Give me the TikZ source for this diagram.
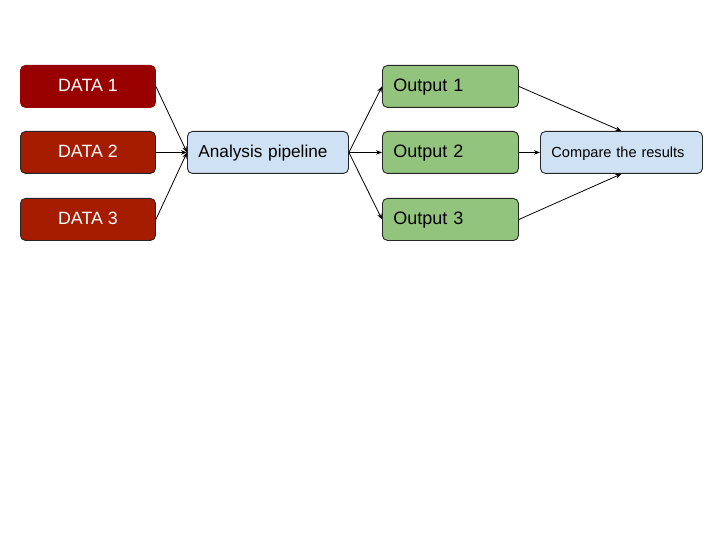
\documentclass[tikz,border=0pt]{standalone}
\usepackage{fontspec}
\setmainfont{Liberation Sans}
\usetikzlibrary{arrows.meta}
\definecolor{dataA}{HTML}{990000}
\definecolor{dataB}{HTML}{A61C00}
\definecolor{paleblue}{HTML}{CFE2F3}
\definecolor{palegreen}{HTML}{93C47D}
\begin{document}
\begin{tikzpicture}[x=1pt,y=-1pt,
  box/.style={rounded corners=5pt, draw=black!85, line width=0.9pt,
    minimum height=42pt, inner ysep=0pt, anchor=north west,
    text height=1.08em, text depth=0pt},
  databox/.style={box, fill=dataB, text=white, font=\fontsize{17.8}{20}\selectfont,
    minimum width=135pt, align=center},
  leftbox/.style={box, inner xsep=11pt, align=left},
  outbox/.style={leftbox, fill=palegreen, font=\fontsize{18}{20}\selectfont, text width=114pt},
  flow/.style={-{Stealth[length=6pt,width=4.5pt]}, line width=0.8pt}]
\useasboundingbox (0,0) rectangle (720,540);
% input data sets
\node[databox, fill=dataA, draw=dataA] (d1) at (20,65) {DATA 1};
\node[databox] (d2) at (20,131) {DATA 2};
\node[databox] (d3) at (20,198) {DATA 3};
% pipeline
\node[leftbox, fill=paleblue, font=\fontsize{17.2}{20}\selectfont, text width=139pt] (ap) at (187,131) {Analysis pipeline};
% outputs
\node[outbox] (o1) at (382,65) {Output 1};
\node[outbox] (o2) at (382,131) {Output 2};
\node[outbox] (o3) at (382,198) {Output 3};
% comparison
\node[leftbox, fill=paleblue, font=\fontsize{14.6}{18}\selectfont, text width=140pt] (cmp) at (540,131) {Compare the results};
% connectors
\draw[flow] (d1.east) -- (ap.west);
\draw[flow] (d2.east) -- (ap.west);
\draw[flow] (d3.east) -- (ap.west);
\draw[flow] (ap.east) -- (o1.west);
\draw[flow] (ap.east) -- (o2.west);
\draw[flow] (ap.east) -- (o3.west);
\draw[flow] (o1.east) -- (cmp.north);
\draw[flow] (o2.east) -- (cmp.west);
\draw[flow] (o3.east) -- (cmp.south);
\end{tikzpicture}
\end{document}
